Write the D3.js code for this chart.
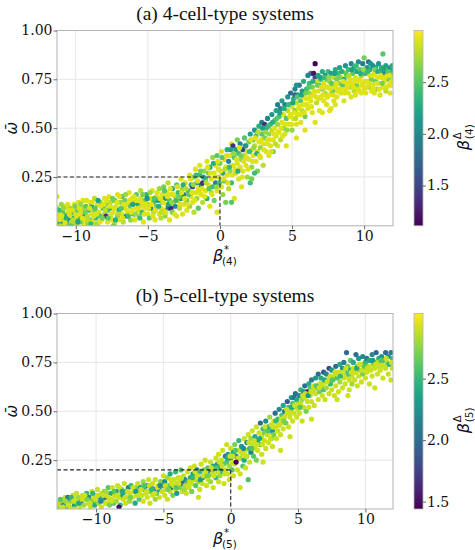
<!DOCTYPE html>
<html><head><meta charset="utf-8">
<script src="https://cdn.jsdelivr.net/npm/d3@7/dist/d3.min.js"></script>
<style>html,body{margin:0;padding:0;background:#fff;}svg{display:block;}</style>
</head><body>
<svg id="chart" width="475" height="550"></svg>
<script>
// ---------- data ----------
const titles = ["(a) 4-cell-type systems", "(b) 5-cell-type systems"];
const subs = ["(4)", "(5)"];
const xTicks = [-10, -5, 0, 5, 10];
const yTicks = [0.25, 0.5, 0.75, 1.0];
const cTicks = [1.5, 2.0, 2.5];
const xDomains = [[-11.3, 12.0], [-12.9, 12.05]];
const cDomains = [[1.11, 3.0], [1.44, 3.03]];
const thresholdX = [0, 0];
const thresholdY = [0.25, 0.20];

// [beta*, omega-bar, beta-delta]
const pointsA = [
[-11.3,0.15,2.9],[-11.3,0.02,2.8],[-11.2,0.05,2.6],[-11.1,0.01,2.3],[-11.0,0.03,2.9],[-10.9,0.07,2.5],[-10.9,0.01,2.0],[-10.8,0.04,2.7],[-10.7,0.10,2.9],[-10.6,0.02,2.4],[-10.6,0.06,2.8],[-10.5,0.00,2.6],[-10.4,0.09,2.7],[-10.4,0.03,1.9],[-10.3,0.05,2.9],[-10.2,0.01,2.7],[-10.2,0.07,2.4],[-10.1,0.11,2.9],[-10.0,0.03,2.5],[-10.0,0.06,2.9],[-11.3,0.09,2.8],[-11.1,0.06,2.9],[-10.8,0.00,2.9],[-10.7,0.05,2.2],[-10.5,0.08,2.9],[-10.3,0.02,2.8],[-10.1,0.04,2.2],[-11.0,0.11,2.7],
[-9.9,0.08,2.6],[-9.9,0.01,2.8],[-9.8,0.12,2.9],[-9.7,0.04,2.3],[-9.7,0.06,2.9],[-9.6,0.02,2.6],[-9.5,0.09,2.8],[-9.5,0.13,2.9],[-9.4,0.03,2.9],[-9.4,0.06,2.0],[-9.3,0.10,2.5],[-9.2,0.01,2.7],[-9.2,0.05,2.8],[-9.1,0.08,2.4],[-9.0,0.12,2.9],[-9.0,0.03,2.6],[-8.9,0.06,2.9],[-8.9,0.10,2.2],[-8.8,0.02,2.9],[-8.7,0.08,2.7],[-8.7,0.14,2.8],[-8.6,0.04,2.4],[-8.5,0.11,2.9],[-8.5,0.01,2.6],[-8.4,0.07,2.9],[-8.3,0.05,2.5],[-8.3,0.12,2.7],[-8.2,0.03,2.9],[-8.1,0.09,2.3],[-8.0,0.06,2.8],[-8.0,0.14,2.9],[-7.9,0.05,1.4],[-9.6,0.07,2.9],[-8.6,0.00,2.8],
[-7.9,0.11,2.6],[-7.8,0.02,2.9],[-7.8,0.08,2.4],[-7.7,0.15,2.9],[-7.6,0.05,2.7],[-7.6,0.12,2.8],[-7.5,0.03,2.9],[-7.5,0.09,2.2],[-7.4,0.07,2.9],[-7.3,0.13,2.5],[-7.3,0.01,2.8],[-7.2,0.10,2.9],[-7.1,0.05,2.6],[-7.1,0.16,2.9],[-7.0,0.08,2.3],[-7.0,0.03,2.9],[-6.9,0.12,2.7],[-6.8,0.06,2.9],[-6.8,0.15,2.4],[-6.7,0.02,2.8],[-6.6,0.09,2.9],[-6.6,0.13,2.6],[-6.5,0.05,2.1],[-6.4,0.11,2.9],[-6.4,0.07,2.8],[-6.3,0.17,2.9],[-6.2,0.03,2.7],[-6.2,0.10,2.5],[-6.1,0.14,2.9],[-6.0,0.06,2.4],[-6.0,0.09,2.9],[-7.4,0.00,2.6],
[-5.9,0.12,2.8],[-5.9,0.03,2.9],[-5.8,0.16,2.5],[-5.7,0.08,2.9],[-5.7,0.11,2.2],[-5.6,0.05,2.7],[-5.5,0.14,2.9],[-5.5,0.18,2.8],[-5.4,0.07,2.4],[-5.4,0.10,2.9],[-5.3,0.02,2.9],[-5.2,0.13,2.6],[-5.2,0.09,2.9],[-5.1,0.16,2.3],[-5.0,0.06,2.9],[-5.0,0.11,2.7],[-4.9,0.04,2.5],[-4.8,0.14,2.9],[-4.8,0.09,2.0],[-4.7,0.18,2.9],[-4.6,0.07,2.8],[-4.6,0.12,2.4],[-4.5,0.03,2.9],[-4.4,0.10,2.6],[-4.4,0.15,2.9],[-4.3,0.13,2.2],[-4.2,0.06,2.9],[-4.2,0.19,2.7],[-4.1,0.09,2.9],[-4.0,0.12,2.5],[-4.0,0.16,2.9],[-4.1,0.04,2.8],
[-3.9,0.08,2.9],[-3.9,0.20,2.6],[-3.8,0.14,2.1],[-3.8,0.05,2.7],[-3.7,0.11,2.9],[-3.7,0.17,2.9],[-3.6,0.09,1.9],[-3.6,0.22,2.8],[-3.5,0.13,2.5],[-3.5,0.03,2.9],[-3.4,0.09,1.3],[-3.4,0.16,2.9],[-3.3,0.07,2.6],[-3.3,0.19,2.3],[-3.2,0.12,2.9],[-3.1,0.10,2.0],[-3.1,0.15,2.8],[-3.0,0.05,2.9],[-3.0,0.21,2.5],[-2.9,0.13,2.9],[-2.9,0.17,2.4],[-2.8,0.09,2.8],[-2.7,0.24,2.9],[-2.7,0.14,2.2],[-2.6,0.06,2.9],[-2.6,0.19,2.7],[-2.5,0.11,2.9],[-2.5,0.16,1.8],[-2.4,0.22,2.9],[-2.3,0.13,2.6],[-2.3,0.08,2.9],[-2.2,0.18,2.4],[-2.1,0.26,2.9],[-2.1,0.10,2.7],[-2.0,0.15,2.9],[-2.0,0.21,2.3],
[-1.9,0.20,1.4],[-1.9,0.12,2.9],[-1.8,0.25,2.6],[-1.8,0.07,2.8],[-1.7,0.17,2.9],[-1.7,0.29,2.9],[-1.6,0.22,2.2],[-1.6,0.14,2.7],[-1.5,0.19,2.9],[-1.5,0.09,2.5],[-1.4,0.26,2.4],[-1.4,0.31,2.9],[-1.3,0.16,2.9],[-1.3,0.21,2.0],[-1.2,0.22,1.4],[-1.2,0.12,2.8],[-1.1,0.28,2.7],[-1.0,0.18,2.9],[-1.0,0.24,2.5],[-0.9,0.33,2.9],[-0.9,0.14,2.3],[-0.8,0.21,2.9],[-0.8,0.27,2.6],[-0.7,0.10,2.9],[-0.7,0.30,2.2],[-0.6,0.17,2.8],[-0.6,0.24,2.9],[-0.5,0.35,2.7],[-0.5,0.20,2.4],[-0.4,0.27,2.9],[-0.4,0.13,2.6],[-0.3,0.31,2.9],[-0.3,0.22,1.9],[-0.2,0.18,2.9],[-0.2,0.36,2.5],[-0.1,0.25,2.8],[-0.1,0.29,2.9],[-0.2,0.07,2.9],
[0.0,0.32,2.6],[0.1,0.20,2.9],[0.1,0.38,2.9],[0.2,0.27,2.2],[0.2,0.16,2.7],[0.3,0.34,2.9],[0.3,0.23,2.5],[0.4,0.30,2.9],[0.4,0.12,2.6],[0.5,0.39,2.3],[0.5,0.26,2.9],[0.6,0.19,2.8],[0.6,0.33,2.0],[0.7,0.36,2.9],[0.7,0.28,2.7],[0.8,0.42,2.9],[0.8,0.22,2.4],[0.9,0.41,1.4],[0.9,0.31,2.9],[1.0,0.35,2.5],[1.0,0.14,2.9],[1.1,0.27,2.8],[1.1,0.39,2.2],[1.2,0.32,2.9],[1.2,0.44,2.6],[1.3,0.24,2.9],[1.3,0.37,2.4],[1.4,0.30,2.9],[1.4,0.42,2.0],[1.5,0.34,2.7],[1.5,0.20,2.9],[1.6,0.39,1.5],[1.6,0.28,2.9],[1.7,0.45,2.5],[1.7,0.36,2.8],[1.8,0.31,2.9],[1.8,0.41,2.3],[1.9,0.25,2.7],[1.9,0.38,2.9],[2.0,0.43,2.6],[2.0,0.34,2.9],[2.1,0.22,2.4],[0.8,0.12,2.5],
[2.1,0.47,2.2],[2.2,0.39,2.9],[2.2,0.30,2.7],[2.3,0.44,2.5],[2.3,0.36,2.9],[2.4,0.49,2.1],[2.4,0.41,2.8],[2.5,0.33,2.9],[2.5,0.46,2.4],[2.6,0.38,2.9],[2.6,0.28,2.6],[2.7,0.43,2.9],[2.7,0.51,2.3],[2.8,0.40,2.7],[2.8,0.35,2.9],[2.9,0.47,2.5],[2.9,0.53,1.9],[3.0,0.42,2.9],[3.0,0.31,2.8],[3.1,0.52,1.4],[3.1,0.45,2.6],[3.2,0.38,2.9],[3.2,0.50,2.3],[3.3,0.55,2.0],[3.3,0.44,2.9],[3.4,0.47,2.7],[3.4,0.36,2.9],[3.5,0.52,2.4],[3.5,0.41,2.9],[3.6,0.57,2.1],[3.6,0.49,2.8],[3.7,0.44,2.9],[3.7,0.38,2.6],[3.8,0.54,2.5],[3.8,0.50,2.9],[3.9,0.59,2.2],[3.9,0.46,2.9],[4.0,0.52,2.7],[4.0,0.41,2.9],[4.0,0.62,1.9],[2.2,0.24,2.6],[2.4,0.27,2.4],
[4.1,0.56,2.4],[4.1,0.48,2.9],[4.2,0.60,2.0],[4.2,0.44,2.8],[4.3,0.53,2.9],[4.3,0.64,2.2],[4.4,0.50,2.6],[4.4,0.57,2.9],[4.5,0.62,1.9],[4.5,0.47,2.9],[4.6,0.55,2.5],[4.6,0.41,2.9],[4.7,0.59,2.8],[4.7,0.66,2.1],[4.8,0.52,2.9],[4.8,0.62,2.4],[4.9,0.57,2.9],[4.9,0.68,1.8],[5.0,0.49,2.7],[5.0,0.61,2.9],[5.1,0.65,2.3],[5.1,0.55,2.9],[5.2,0.70,2.0],[5.2,0.59,2.6],[5.3,0.52,2.9],[5.3,0.63,2.8],[5.4,0.67,2.2],[5.4,0.57,2.9],[5.5,0.72,1.9],[5.5,0.61,2.9],[5.6,0.64,2.5],[5.6,0.53,2.9],[5.7,0.69,2.1],[5.7,0.59,2.8],[5.8,0.66,2.9],[5.8,0.74,2.3],[5.9,0.62,2.9],[5.9,0.56,2.6],[6.0,0.70,2.4],[6.0,0.65,2.9],[5.3,0.45,2.9],[5.9,0.49,2.9],[5.3,0.72,2.1],[5.2,0.67,1.7],
[6.1,0.77,2.0],[6.1,0.60,2.9],[6.2,0.68,2.7],[6.2,0.73,2.4],[6.3,0.64,2.9],[6.3,0.78,1.9],[6.4,0.71,2.6],[6.4,0.58,2.9],[6.5,0.78,1.2],[6.5,0.67,2.9],[6.6,0.83,1.11],[6.6,0.76,1.5],[6.7,0.74,2.9],[6.7,0.63,2.8],[6.8,0.69,2.9],[6.8,0.77,2.2],[6.9,0.72,2.5],[6.9,0.59,2.9],[7.0,0.75,2.4],[7.0,0.66,2.9],[7.1,0.70,2.7],[7.1,0.79,2.3],[7.2,0.64,2.9],[7.2,0.73,2.9],[7.3,0.77,2.1],[7.3,0.68,2.8],[7.4,0.62,2.9],[7.4,0.75,2.6],[7.5,0.71,2.9],[7.5,0.79,2.4],[7.6,0.67,2.9],[7.6,0.74,2.7],[7.7,0.78,2.2],[7.7,0.60,2.9],[7.8,0.72,2.9],[7.8,0.69,2.5],[7.9,0.76,2.8],[7.9,0.64,2.9],[8.0,0.80,2.3],[8.0,0.71,2.9],[6.6,0.53,2.9],[7.1,0.58,2.9],[7.6,0.59,2.9],[8.0,0.62,2.9],
[8.1,0.75,2.6],[8.1,0.66,2.9],[8.2,0.78,2.4],[8.2,0.70,2.9],[8.3,0.73,2.7],[8.3,0.81,2.2],[8.4,0.68,2.9],[8.4,0.76,2.9],[8.5,0.72,2.5],[8.5,0.79,2.8],[8.6,0.64,2.9],[8.6,0.75,2.3],[8.7,0.82,2.1],[8.7,0.70,2.9],[8.8,0.77,2.6],[8.8,0.73,2.9],[8.9,0.68,2.9],[8.9,0.80,2.4],[9.0,0.75,2.9],[9.0,0.71,2.7],[9.1,0.83,2.0],[9.1,0.66,2.9],[9.2,0.78,2.5],[9.2,0.73,2.9],[9.3,0.69,2.8],[9.3,0.81,2.3],[9.4,0.76,2.9],[9.4,0.67,2.9],[9.5,0.79,2.2],[9.5,0.72,2.6],[9.6,0.84,2.0],[9.6,0.70,2.9],[9.7,0.75,2.9],[9.7,0.80,2.5],[9.8,0.68,2.9],[9.8,0.77,2.7],[9.9,0.83,1.9],[9.9,0.73,2.9],[10.0,0.86,2.6],[10.0,0.70,2.9],
[10.1,0.78,2.4],[10.1,0.68,2.9],[10.2,0.81,2.1],[10.2,0.74,2.9],[10.3,0.84,1.8],[10.3,0.71,2.8],[10.4,0.77,2.9],[10.4,0.80,2.3],[10.5,0.69,2.9],[10.5,0.75,2.6],[10.6,0.82,2.0],[10.6,0.72,2.9],[10.7,0.78,2.9],[10.7,0.68,2.9],[10.8,0.74,2.5],[10.8,0.81,2.2],[10.9,0.76,2.9],[10.9,0.70,2.7],[11.0,0.83,2.1],[11.0,0.73,2.9],[11.1,0.79,2.4],[11.1,0.67,2.9],[11.2,0.76,2.9],[11.2,0.81,2.3],[11.3,0.88,2.5],[11.3,0.71,2.9],[11.4,0.78,2.0],[11.4,0.74,2.9],[11.5,0.82,2.2],[11.5,0.69,2.8],[11.6,0.77,2.9],[11.6,0.80,2.4],[11.7,0.72,2.9],[11.7,0.75,2.6],[11.8,0.81,2.1],[11.8,0.68,2.9],[11.9,0.78,2.5],[11.9,0.74,2.9],[12.0,0.76,2.8],[12.0,0.80,2.3],
[-11.25,0.04,2.9],[-11.15,0.08,2.4],[-11.05,0.00,2.8],[-10.95,0.05,2.9],[-10.85,0.09,2.7],[-10.75,0.02,2.9],[-10.65,0.04,2.3],[-10.55,0.11,2.9],[-10.45,0.06,2.9],[-10.35,0.00,2.5],[-10.25,0.08,2.9],[-10.15,0.03,2.8],[-10.05,0.10,2.6],[-9.95,0.05,2.9],[-9.85,0.02,2.2],[-9.75,0.09,2.9],[-9.65,0.11,2.7],[-9.55,0.04,2.9],[-9.45,0.00,2.9],[-9.35,0.07,2.6],[-9.25,0.13,2.9],[-9.15,0.03,2.8],[-9.05,0.09,2.9],[-8.95,0.01,2.4],[-8.85,0.12,2.9],[-8.75,0.05,2.9],[-8.65,0.09,2.5],[-8.55,0.06,2.9],[-8.45,0.13,2.2],[-8.35,0.02,2.9],[-8.25,0.10,2.9],[-8.15,0.04,2.6],[-8.05,0.11,2.9],[-7.95,0.08,2.8],[-7.85,0.13,2.9],[-7.75,0.04,2.5],[-7.65,0.10,2.9],[-7.55,0.06,2.9],[-7.45,0.14,2.6],[-7.35,0.09,2.9],[-7.25,0.03,2.3],[-7.15,0.12,2.9],[-7.05,0.06,2.8],[-6.95,0.15,2.9],[-6.85,0.09,2.5],[-6.75,0.04,2.9],[-6.65,0.11,2.9],[-6.55,0.16,2.7],[-6.45,0.08,2.9],[-6.35,0.05,2.4],[-6.25,0.13,2.9],[-6.15,0.07,2.9],[-6.05,0.11,2.2],
[-5.95,0.15,2.9],[-5.85,0.06,2.7],[-5.75,0.13,2.9],[-5.65,0.09,2.9],[-5.55,0.04,2.4],[-5.45,0.12,2.9],[-5.35,0.16,2.6],[-5.25,0.06,2.9],[-5.15,0.11,2.9],[-5.05,0.14,2.1],[-4.95,0.09,2.9],[-4.85,0.17,2.7],[-4.75,0.11,2.9],[-4.65,0.05,2.9],[-4.55,0.14,2.5],[-4.45,0.08,2.9],[-4.35,0.17,2.9],[-4.25,0.10,2.3],[-4.15,0.14,2.9],[-4.05,0.07,2.8],[-3.95,0.12,2.9],[-3.85,0.18,2.5],[-3.75,0.07,2.9],[-3.65,0.15,2.9],[-3.55,0.11,2.2],[-3.45,0.19,2.9],[-3.35,0.12,2.7],[-3.25,0.16,2.9],[-3.15,0.06,2.9],[-3.05,0.13,2.4],[-2.95,0.20,2.9],[-2.85,0.15,2.6],[-2.75,0.11,2.9],[-2.65,0.17,2.9],[-2.55,0.21,2.3],[-2.45,0.14,2.9],[-2.35,0.19,2.8],[-2.25,0.11,2.9],[-2.15,0.16,2.5],[-2.05,0.24,2.9],
[-1.95,0.17,2.9],[-1.85,0.21,2.7],[-1.75,0.13,2.9],[-1.65,0.26,2.4],[-1.55,0.23,2.9],[-1.45,0.17,2.9],[-1.35,0.28,2.6],[-1.25,0.19,2.9],[-1.15,0.25,2.2],[-1.05,0.15,2.9],[-0.95,0.22,2.8],[-0.85,0.30,2.9],[-0.75,0.19,2.5],[-0.65,0.27,2.9],[-0.55,0.16,2.9],[-0.45,0.32,2.3],[-0.35,0.25,2.9],[-0.25,0.20,2.7],[-0.15,0.33,2.9],[-0.05,0.22,2.4],[0.05,0.28,2.9],[0.15,0.35,2.5],[0.25,0.24,2.9],[0.35,0.29,2.8],[0.45,0.36,2.9],[0.55,0.22,2.9],[0.65,0.30,2.4],[0.75,0.39,2.2],[0.85,0.26,2.9],[0.95,0.37,2.7],[1.05,0.29,2.9],[1.15,0.34,2.9],[1.25,0.28,2.3],[1.35,0.40,2.9],[1.45,0.36,2.6],[1.55,0.25,2.9],[1.65,0.33,2.9],[1.75,0.41,2.1],[1.85,0.35,2.9],[1.95,0.29,2.9],
[2.05,0.38,2.4],[2.15,0.44,2.9],[2.25,0.33,2.9],[2.35,0.40,2.7],[2.45,0.45,2.9],[2.55,0.37,2.3],[2.65,0.48,2.8],[2.75,0.36,2.9],[2.85,0.44,2.9],[2.95,0.50,2.2],[3.05,0.39,2.9],[3.15,0.48,2.7],[3.25,0.42,2.9],[3.35,0.51,2.4],[3.45,0.44,2.9],[3.55,0.38,2.9],[3.65,0.53,2.3],[3.75,0.47,2.9],[3.85,0.42,2.8],[3.95,0.55,2.5],[4.05,0.48,2.9],[4.15,0.58,2.2],[4.25,0.50,2.9],[4.35,0.46,2.9],[4.45,0.60,2.3],[4.55,0.52,2.9],[4.65,0.49,2.7],[4.75,0.62,2.4],[4.85,0.56,2.9],[4.95,0.52,2.9],[5.05,0.63,2.2],[5.15,0.58,2.9],[5.25,0.55,2.8],[5.35,0.66,2.5],[5.45,0.60,2.9],[5.55,0.57,2.9],[5.65,0.67,2.2],[5.75,0.62,2.9],[5.85,0.58,2.9],[5.95,0.68,2.6],
[6.05,0.62,2.9],[6.15,0.71,2.5],[6.25,0.66,2.9],[6.35,0.61,2.9],[6.45,0.74,2.3],[6.55,0.69,2.9],[6.65,0.66,2.9],[6.75,0.72,2.6],[6.85,0.65,2.9],[6.95,0.76,2.2],[7.05,0.71,2.9],[7.15,0.67,2.9],[7.25,0.76,2.4],[7.35,0.71,2.9],[7.45,0.66,2.9],[7.55,0.76,2.7],[7.65,0.70,2.9],[7.75,0.73,2.5],[7.85,0.67,2.9],[7.95,0.78,2.2],[8.05,0.73,2.9],[8.15,0.69,2.9],[8.25,0.76,2.6],[8.35,0.70,2.9],[8.45,0.79,2.3],[8.55,0.74,2.9],[8.65,0.68,2.9],[8.75,0.78,2.5],[8.85,0.71,2.9],[8.95,0.77,2.8],[9.05,0.73,2.9],[9.15,0.80,2.2],[9.25,0.71,2.9],[9.35,0.75,2.9],[9.45,0.82,2.4],[9.55,0.74,2.9],[9.65,0.69,2.9],[9.75,0.78,2.3],[9.85,0.72,2.9],[9.95,0.80,2.7],[10.05,0.74,2.9],[10.15,0.71,2.9],[10.25,0.79,2.4],[10.35,0.73,2.9],[10.45,0.83,2.1],[10.55,0.77,2.9],[10.65,0.70,2.9],[10.75,0.80,2.6],[10.85,0.73,2.9],[10.95,0.79,2.3],[11.05,0.70,2.9],[11.15,0.77,2.9],[11.25,0.73,2.6],[11.35,0.80,2.2],[11.45,0.76,2.9],[11.55,0.71,2.9],[11.65,0.79,2.5],[11.75,0.77,2.9],[11.85,0.72,2.9],[11.95,0.82,2.3]
];

const pointsB = [
[-12.9,0.02,2.9],[-12.8,0.00,2.7],[-12.7,0.03,2.5],[-12.6,0.01,2.9],[-12.5,0.04,2.8],[-12.4,0.02,2.2],[-12.3,0.06,2.9],[-12.2,0.00,2.6],[-12.1,0.03,2.9],[-12.0,0.05,2.4],[-11.9,0.01,2.9],[-11.8,0.04,2.7],[-11.7,0.07,2.9],[-11.6,0.02,2.3],[-11.5,0.05,2.9],[-11.4,0.03,2.6],[-11.3,0.06,2.8],[-11.2,0.01,2.9],[-11.1,0.04,2.1],[-11.0,0.07,2.9],[-12.4,0.05,2.9],[-11.6,0.00,2.9],[-12.1,0.06,2.1],
[-10.9,0.02,2.8],[-10.8,0.05,2.9],[-10.7,0.08,2.5],[-10.6,0.03,2.9],[-10.5,0.06,2.2],[-10.4,0.01,2.9],[-10.3,0.09,2.9],[-10.3,0.04,2.7],[-10.2,0.06,2.9],[-10.1,0.02,2.4],[-10.0,0.07,2.9],[-10.0,0.04,2.6],[-9.9,0.10,2.9],[-9.8,0.03,2.8],[-9.7,0.06,2.3],[-9.6,0.08,2.9],[-9.6,0.01,2.9],[-9.5,0.05,2.5],[-9.4,0.09,2.8],[-9.3,0.03,2.9],[-9.3,0.06,2.0],[-9.2,0.07,2.9],[-9.1,0.11,2.6],[-9.0,0.04,2.9],[-9.0,0.02,2.7],
[-8.9,0.08,2.4],[-8.8,0.05,2.9],[-8.8,0.11,2.9],[-8.7,0.03,2.6],[-8.6,0.07,2.9],[-8.5,0.09,2.2],[-8.5,0.04,2.8],[-8.4,0.12,2.9],[-8.3,0.06,2.9],[-8.2,0.02,2.5],[-8.2,0.08,2.9],[-8.1,0.10,2.7],[-8.0,0.05,2.9],[-8.0,0.07,2.3],[-7.9,0.13,2.9],[-7.8,0.03,2.9],[-7.8,0.09,2.6],[-7.7,0.06,2.9],[-7.6,0.11,2.1],[-7.5,0.04,2.8],[-7.5,0.08,2.9],[-7.4,0.12,2.5],[-7.3,0.06,2.9],[-7.2,0.09,2.9],[-7.1,0.03,2.4],[-7.0,0.07,2.9],[-7.0,0.11,2.7],[-8.3,0.01,1.5],
[-6.9,0.13,2.9],[-6.8,0.05,2.6],[-6.8,0.09,2.9],[-6.7,0.11,2.3],[-6.6,0.07,2.9],[-6.5,0.14,2.8],[-6.5,0.04,2.9],[-6.4,0.10,2.5],[-6.3,0.08,2.9],[-6.2,0.12,2.2],[-6.2,0.06,2.9],[-6.1,0.15,2.9],[-6.0,0.09,2.7],[-6.0,0.03,2.9],[-5.9,0.11,2.4],[-5.8,0.07,2.9],[-5.8,0.13,2.9],[-5.7,0.10,2.0],[-5.6,0.05,2.8],[-5.6,0.15,2.9],[-5.5,0.08,2.6],[-5.4,0.12,2.9],[-5.3,0.10,2.3],[-5.3,0.06,2.9],[-5.2,0.14,2.7],[-5.1,0.09,2.9],[-5.0,0.12,2.5],[-5.0,0.17,2.9],
[-4.9,0.07,2.9],[-4.9,0.14,2.2],[-4.8,0.10,2.9],[-4.7,0.16,2.8],[-4.7,0.05,2.9],[-4.6,0.12,2.6],[-4.5,0.09,2.9],[-4.5,0.18,2.4],[-4.4,0.13,2.9],[-4.3,0.07,2.7],[-4.3,0.11,2.1],[-4.2,0.15,2.9],[-4.1,0.10,2.9],[-4.1,0.19,2.5],[-4.0,0.13,2.9],[-4.0,0.08,2.3],[-3.9,0.16,2.9],[-3.8,0.11,2.7],[-3.8,0.14,2.9],[-3.7,0.20,2.6],[-3.6,0.09,2.9],[-3.6,0.13,1.9],[-3.5,0.17,2.9],[-3.4,0.12,2.8],[-3.4,0.15,2.2],[-3.3,0.08,2.9],[-3.2,0.19,2.9],[-3.2,0.14,2.5],[-3.1,0.11,2.9],[-3.0,0.16,2.4],[-3.0,0.21,2.9],
[-2.9,0.13,2.9],[-2.9,0.09,2.7],[-2.8,0.18,2.3],[-2.7,0.15,2.9],[-2.7,0.22,2.9],[-2.6,0.12,2.6],[-2.5,0.17,2.9],[-2.5,0.20,2.1],[-2.4,0.14,2.8],[-2.3,0.10,2.9],[-2.3,0.19,2.5],[-2.2,0.23,2.9],[-2.1,0.16,2.4],[-2.1,0.13,2.9],[-2.0,0.20,2.7],[-1.9,0.25,2.9],[-1.9,0.17,2.2],[-1.8,0.12,2.9],[-1.7,0.21,2.6],[-1.7,0.15,2.9],[-1.6,0.19,2.0],[-1.5,0.24,2.9],[-1.5,0.14,2.8],[-1.4,0.18,2.9],[-1.3,0.22,2.4],[-1.3,0.11,2.9],[-1.2,0.20,2.7],[-1.1,0.26,2.9],[-1.1,0.16,2.5],[-1.0,0.19,2.9],[-1.0,0.23,2.3],[-2.4,0.06,2.9],
[-0.9,0.14,2.9],[-0.9,0.28,2.9],[-0.8,0.21,2.2],[-0.8,0.17,2.8],[-0.7,0.25,2.9],[-0.6,0.19,2.5],[-0.6,0.30,2.9],[-0.5,0.23,2.7],[-0.5,0.13,2.9],[-0.4,0.27,2.1],[-0.4,0.20,2.9],[-0.3,0.24,2.6],[-0.3,0.33,2.9],[-0.2,0.18,2.9],[-0.2,0.28,2.3],[-0.1,0.22,2.8],[-0.1,0.15,2.9],[0.0,0.26,2.0],[0.0,0.31,2.9],[0.1,0.20,2.6],[0.1,0.24,2.9],[0.2,0.29,2.4],[0.2,0.17,2.9],[0.3,0.33,2.7],[0.3,0.23,2.9],[0.4,0.27,2.2],[0.5,0.20,2.9],[0.6,0.30,2.9],[0.6,0.35,2.5],[0.7,0.26,2.8],[0.7,0.18,2.9],[0.8,0.32,2.3],[0.9,0.28,2.9],[0.9,0.22,2.6],[1.0,0.36,2.9],[1.0,0.25,2.4],[0.7,0.11,2.9],[1.3,0.15,2.6],
[1.1,0.30,2.9],[1.1,0.21,2.9],[1.2,0.34,2.2],[1.2,0.27,2.7],[1.3,0.38,2.9],[1.4,0.31,2.5],[1.4,0.24,2.9],[1.5,0.36,2.8],[1.5,0.29,2.1],[1.6,0.40,2.9],[1.6,0.33,2.9],[1.7,0.27,2.6],[1.8,0.37,2.4],[1.8,0.31,2.9],[1.9,0.42,2.9],[1.9,0.25,2.7],[2.0,0.35,2.3],[2.0,0.30,2.9],[2.1,0.39,2.9],[2.2,0.33,2.6],[2.2,0.44,2.0],[2.3,0.37,2.9],[2.3,0.28,2.9],[2.4,0.41,2.5],[2.5,0.35,2.9],[2.5,0.39,2.7],[2.6,0.45,2.2],[2.6,0.31,2.9],[2.7,0.38,2.9],[2.8,0.42,2.4],[2.8,0.34,2.9],[2.9,0.47,2.8],[2.9,0.39,2.9],[3.0,0.36,2.6],[3.0,0.43,2.9],[2.4,0.24,2.9],
[3.1,0.40,2.3],[3.1,0.32,2.9],[3.2,0.45,2.9],[3.2,0.38,2.7],[3.3,0.49,2.0],[3.3,0.42,2.9],[3.4,0.36,2.9],[3.5,0.46,2.5],[3.5,0.40,2.9],[3.6,0.51,2.2],[3.6,0.43,2.8],[3.7,0.38,2.9],[3.8,0.48,2.6],[3.8,0.44,2.9],[3.9,0.53,2.4],[3.9,0.41,2.9],[4.0,0.47,2.9],[4.0,0.50,2.1],[4.1,0.44,2.7],[4.2,0.55,1.9],[4.2,0.49,2.9],[4.3,0.42,2.9],[4.3,0.52,2.5],[4.4,0.47,2.9],[4.5,0.57,2.3],[4.5,0.50,2.8],[4.6,0.45,2.9],[4.6,0.54,2.6],[4.7,0.49,2.9],[4.7,0.57,2.0],[4.8,0.59,2.0],[4.8,0.52,2.9],[4.9,0.47,2.9],[4.9,0.56,2.4],[5.0,0.51,2.9],[5.0,0.54,2.7],[3.7,0.30,2.9],[4.4,0.37,2.9],
[5.1,0.58,2.2],[5.1,0.49,2.9],[5.2,0.54,2.9],[5.2,0.61,2.5],[5.3,0.45,2.9],[5.3,0.56,2.8],[5.4,0.60,2.3],[5.4,0.52,2.9],[5.5,0.63,2.0],[5.5,0.57,2.9],[5.6,0.50,2.7],[5.7,0.60,1.6],[5.7,0.55,2.9],[5.8,0.64,2.4],[5.8,0.52,2.9],[5.9,0.58,2.9],[5.9,0.62,2.6],[6.0,0.55,2.9],[6.0,0.66,2.1],[6.1,0.60,2.8],[6.2,0.63,2.9],[6.2,0.53,2.9],[6.3,0.67,2.3],[6.3,0.59,2.9],[6.4,0.62,2.5],[6.5,0.56,2.9],[6.5,0.69,2.0],[6.6,0.64,2.9],[6.6,0.60,2.7],[6.7,0.67,2.4],[6.8,0.58,2.9],[6.8,0.63,2.9],[6.9,0.70,1.9],[6.9,0.61,2.6],[7.0,0.65,2.9],[7.0,0.56,2.9],[6.0,0.46,2.9],
[7.1,0.62,2.8],[7.1,0.69,2.2],[7.2,0.66,2.9],[7.3,0.59,2.9],[7.3,0.72,1.8],[7.4,0.64,2.5],[7.4,0.68,2.9],[7.5,0.61,2.9],[7.5,0.71,2.3],[7.6,0.66,2.7],[7.7,0.58,2.9],[7.7,0.68,2.9],[7.8,0.73,2.0],[7.8,0.63,2.9],[7.9,0.67,2.6],[8.0,0.70,2.9],[8.0,0.60,2.9],[8.1,0.74,2.4],[8.1,0.65,2.8],[8.2,0.69,2.9],[8.3,0.62,2.9],[8.3,0.72,2.2],[8.4,0.75,2.1],[8.4,0.67,2.9],[8.5,0.64,2.9],[8.5,0.70,2.5],[8.6,0.80,2.0],[8.6,0.68,2.9],[8.7,0.73,2.7],[8.8,0.61,2.9],[8.8,0.66,2.9],[8.9,0.71,2.3],[8.9,0.76,2.6],[9.0,0.68,2.9],[9.0,0.64,2.8],[7.9,0.56,2.9],[8.7,0.58,2.9],
[9.1,0.72,2.9],[9.1,0.75,2.4],[9.2,0.66,2.9],[9.3,0.79,2.0],[9.3,0.70,2.9],[9.4,0.73,2.6],[9.4,0.63,2.9],[9.5,0.77,2.3],[9.5,0.68,2.9],[9.6,0.71,2.8],[9.7,0.74,2.9],[9.7,0.65,2.9],[9.8,0.78,2.2],[9.8,0.69,2.7],[9.9,0.72,2.9],[10.0,0.75,2.5],[10.0,0.67,2.9],[10.1,0.70,2.9],[10.1,0.77,2.1],[10.2,0.73,2.8],[10.3,0.64,2.9],[10.3,0.76,2.4],[10.4,0.71,2.9],[10.5,0.79,2.2],[10.5,0.68,2.9],[10.6,0.74,2.6],[10.7,0.72,2.9],[10.7,0.62,2.9],[10.8,0.80,2.0],[10.8,0.75,2.7],[10.9,0.69,2.9],[11.0,0.77,2.4],[11.0,0.73,2.9],
[11.1,0.71,2.9],[11.2,0.78,2.3],[11.2,0.74,2.9],[11.3,0.67,2.9],[11.4,0.76,2.6],[11.5,0.80,2.0],[11.5,0.72,2.9],[11.6,0.75,2.8],[11.7,0.78,2.2],[11.7,0.69,2.9],[11.8,0.74,2.9],[11.9,0.80,2.1],[11.9,0.66,2.9],[12.0,0.77,2.5],[12.0,0.72,2.9],
[-12.85,0.03,2.9],[-12.65,0.05,2.6],[-12.45,0.01,2.9],[-12.25,0.04,2.8],[-12.05,0.02,2.9],[-11.85,0.06,2.5],[-11.65,0.04,2.9],[-11.45,0.08,2.9],[-11.25,0.03,2.4],[-11.05,0.05,2.9],[-10.85,0.07,2.9],[-10.65,0.05,2.7],[-10.45,0.03,2.9],[-10.25,0.08,2.5],[-10.05,0.05,2.9],[-9.85,0.07,2.9],[-9.65,0.04,2.2],[-9.45,0.07,2.9],[-9.25,0.09,2.8],[-9.05,0.06,2.9],[-8.85,0.04,2.9],[-8.65,0.09,2.6],[-8.45,0.07,2.9],[-8.25,0.11,2.9],[-8.05,0.09,2.4],[-7.85,0.06,2.9],[-7.65,0.09,2.9],[-7.45,0.06,2.7],[-7.25,0.11,2.9],[-7.05,0.09,2.3],[-6.85,0.07,2.9],[-6.65,0.10,2.9],[-6.45,0.12,2.6],[-6.25,0.09,2.9],[-6.05,0.12,2.9],[-5.85,0.10,2.5],[-5.65,0.08,2.9],[-5.45,0.11,2.9],[-5.25,0.12,2.2],[-5.05,0.09,2.9],[-4.85,0.12,2.9],[-4.65,0.10,2.7],[-4.45,0.15,2.9],[-4.25,0.12,2.9],[-4.05,0.11,2.6],[-3.85,0.13,2.9],[-3.65,0.16,2.9],[-3.45,0.10,2.8],[-3.25,0.12,2.9],[-3.05,0.14,2.9],[-2.85,0.16,2.5],[-2.65,0.19,2.9],[-2.45,0.17,2.9],[-2.25,0.15,2.3],[-2.05,0.17,2.9],[-1.85,0.19,2.9],[-1.65,0.17,2.7],[-1.45,0.21,2.9],[-1.25,0.17,2.9],[-1.05,0.21,2.6],[-0.85,0.24,2.9],[-0.65,0.22,2.9],[-0.45,0.18,2.9],[-0.25,0.26,2.4],[-0.05,0.27,2.9],[0.15,0.27,2.9],[0.35,0.30,2.6],[0.55,0.26,2.9],[0.75,0.29,2.9],[0.95,0.31,2.2],[1.15,0.27,2.9],[1.35,0.34,2.9],[1.55,0.31,2.6],[1.75,0.35,2.9],[1.95,0.33,2.9],[2.15,0.36,2.4],[2.35,0.33,2.9],[2.55,0.42,2.9],[2.75,0.40,2.6],[2.95,0.36,2.9],[3.15,0.42,2.9],[3.35,0.45,2.5],[3.55,0.43,2.9],[3.75,0.46,2.9],[3.95,0.45,2.7],[4.15,0.51,2.9],[4.35,0.49,2.9],[4.55,0.52,2.4],[4.75,0.53,2.9],[4.95,0.53,2.9],[5.15,0.52,2.6],[5.35,0.58,2.9],[5.55,0.59,2.9],[5.75,0.58,2.3],[5.95,0.60,2.9],[6.15,0.62,2.9],[6.35,0.63,2.6],[6.55,0.62,2.9],[6.75,0.64,2.9],[6.95,0.66,2.4],[7.15,0.65,2.9],[7.35,0.67,2.9],[7.55,0.66,2.6],[7.75,0.70,2.9],[7.95,0.69,2.9],[8.15,0.68,2.5],[8.35,0.70,2.9],[8.55,0.72,2.9],[8.75,0.69,2.6],[8.95,0.70,2.9],[9.15,0.70,2.9],[9.35,0.72,2.4],[9.55,0.74,2.9],[9.75,0.71,2.9],[9.95,0.73,2.6],[10.15,0.72,2.9],[10.35,0.73,2.9],[10.55,0.76,2.3],[10.75,0.74,2.9],[10.95,0.75,2.9],[11.15,0.76,2.6],[11.35,0.73,2.9],[11.55,0.77,2.9],[11.75,0.74,2.5],[11.95,0.75,2.9],
[0.4,0.24,1.44]
];

const datasets = [pointsA, pointsB];

// ---------- layout ----------
const svg = d3.select("#chart");
const panels = [
  {left:57, right:393, top:30.5, bottom:225.8, titleY:20, cbX:414, cbW:9},
  {left:57, right:393, top:313.5, bottom:509, titleY:302, cbX:414, cbW:9}
];
const SERIF = "DejaVu Serif";
const TIMES = "Liberation Serif";
const MATH = "DejaVu Sans";
const gridColor = "#e3e3e3";
const spineColor = "#b3b3b3";
const defs = svg.append("defs");

panels.forEach((p, i) => {
  const data = datasets[i];
  const g = svg.append("g");
  const x = d3.scaleLinear().domain(xDomains[i]).range([p.left, p.right]);
  const y = d3.scaleLinear().domain([0, 1]).range([p.bottom, p.top]);
  const c = d3.scaleSequential(d3.interpolateViridis).domain(cDomains[i]);

  // grid
  g.append("g").selectAll("line").data(xTicks).join("line")
    .attr("x1", d => x(d)).attr("x2", d => x(d))
    .attr("y1", p.top).attr("y2", p.bottom)
    .attr("stroke", gridColor).attr("stroke-width", 0.9);
  g.append("g").selectAll("line").data(yTicks).join("line")
    .attr("x1", p.left).attr("x2", p.right)
    .attr("y1", d => y(d)).attr("y2", d => y(d))
    .attr("stroke", gridColor).attr("stroke-width", 0.9);

  // clip
  const cid = "clip" + i;
  defs.append("clipPath").attr("id", cid)
    .append("rect").attr("x", p.left).attr("y", p.top)
    .attr("width", p.right - p.left).attr("height", p.bottom - p.top);

  // points
  g.append("g").attr("clip-path", `url(#${cid})`)
    .selectAll("circle").data(data).join("circle")
    .attr("cx", d => x(d[0])).attr("cy", d => y(d[1]))
    .attr("r", 2.6).attr("fill", d => c(d[2]));

  // threshold dashed lines
  const dash = g.append("g").attr("fill", "none").attr("stroke", "#222")
    .attr("stroke-width", 1.1).attr("stroke-dasharray", "4,2.5");
  dash.append("line").attr("x1", p.left).attr("x2", x(thresholdX[i]))
    .attr("y1", y(thresholdY[i])).attr("y2", y(thresholdY[i]));
  dash.append("line").attr("x1", x(thresholdX[i])).attr("x2", x(thresholdX[i]))
    .attr("y1", y(thresholdY[i])).attr("y2", p.bottom);

  // frame
  g.append("rect").attr("x", p.left).attr("y", p.top)
    .attr("width", p.right - p.left).attr("height", p.bottom - p.top)
    .attr("fill", "none").attr("stroke", spineColor).attr("stroke-width", 1);

  // axes
  const fmtX = d => d < 0 ? "\u2212" + Math.abs(d) : String(d);
  const xAxis = g.append("g").attr("transform", `translate(0,${p.bottom})`)
    .call(d3.axisBottom(x).tickValues(xTicks).tickFormat(fmtX).tickSize(3.5).tickSizeOuter(0).tickPadding(2));
  const yAxis = g.append("g").attr("transform", `translate(${p.left},0)`)
    .call(d3.axisLeft(y).tickValues(yTicks).tickFormat(d3.format(".2f")).tickSize(3.5).tickSizeOuter(0).tickPadding(1));
  [xAxis, yAxis].forEach(ax => {
    ax.attr("font-family", SERIF).attr("font-size", 14);
    ax.select(".domain").remove();
    ax.selectAll(".tick line").attr("stroke", "#444").attr("stroke-width", 0.8);
    ax.selectAll(".tick text").attr("fill", "#111").attr("font-family", SERIF).attr("font-size", 14);
  });

  // title
  g.append("text").attr("x", (p.left + p.right) / 2).attr("y", p.titleY)
    .attr("text-anchor", "middle").attr("font-family", TIMES).attr("font-size", 19.5)
    .attr("fill", "#111").text(titles[i]);

  // x label (separate pieces so scripts don't collide)
  const cx = (p.left + p.right) / 2;
  g.append("text").attr("x", cx - 12).attr("y", p.bottom + 35).attr("font-family", MATH)
    .attr("font-size", 16).attr("font-style", "italic").attr("fill", "#111").text("β");
  g.append("text").attr("x", cx - 1).attr("y", p.bottom + 27).attr("font-family", MATH)
    .attr("font-size", 10).attr("fill", "#111").text("*");
  g.append("text").attr("x", cx - 3).attr("y", p.bottom + 39).attr("font-family", MATH)
    .attr("font-size", 10.5).attr("fill", "#111").text(subs[i]);

  // y label
  g.append("text").attr("transform", `translate(16.5,${(p.top + p.bottom) / 2}) rotate(-90)`)
    .attr("text-anchor", "middle").attr("font-family", MATH).attr("font-size", 15)
    .attr("font-style", "italic").attr("fill", "#111").text("ω\u0304");

  // colorbar
  const gid = "grad" + i;
  const grad = defs.append("linearGradient").attr("id", gid)
    .attr("x1", 0).attr("y1", 1).attr("x2", 0).attr("y2", 0);
  d3.range(0, 1.0001, 0.05).forEach(t => {
    grad.append("stop").attr("offset", t).attr("stop-color", d3.interpolateViridis(t));
  });
  g.append("rect").attr("x", p.cbX).attr("y", p.top).attr("width", p.cbW)
    .attr("height", p.bottom - p.top).attr("fill", `url(#${gid})`)
    .attr("stroke", spineColor).attr("stroke-width", 0.8);
  const cy = d3.scaleLinear().domain(cDomains[i]).range([p.bottom, p.top]);
  const cAxis = g.append("g").attr("transform", `translate(${p.cbX + p.cbW},0)`)
    .call(d3.axisRight(cy).tickValues(cTicks).tickFormat(d3.format(".1f")).tickSize(3).tickSizeOuter(0).tickPadding(1));
  cAxis.attr("font-family", SERIF).attr("font-size", 14);
  cAxis.select(".domain").remove();
  cAxis.selectAll(".tick line").attr("stroke", "#444").attr("stroke-width", 0.8);
  cAxis.selectAll(".tick text").attr("fill", "#111").attr("font-family", SERIF).attr("font-size", 14);

  // colorbar label (rotated; pieces placed separately)
  const ly = (p.top + p.bottom) / 2 + 12;
  g.append("text").attr("transform", `translate(469,${ly + 10}) rotate(-90)`).attr("font-family", MATH)
    .attr("font-size", 16).attr("font-style", "italic").attr("fill", "#111").text("β");
  g.append("text").attr("transform", `translate(461,${ly - 1}) rotate(-90)`).attr("font-family", MATH)
    .attr("font-size", 10).attr("fill", "#111").text("Δ");
  g.append("text").attr("transform", `translate(473,${ly - 1}) rotate(-90)`).attr("font-family", MATH)
    .attr("font-size", 10.5).attr("fill", "#111").text(subs[i]);
});
</script>
</body></html>
